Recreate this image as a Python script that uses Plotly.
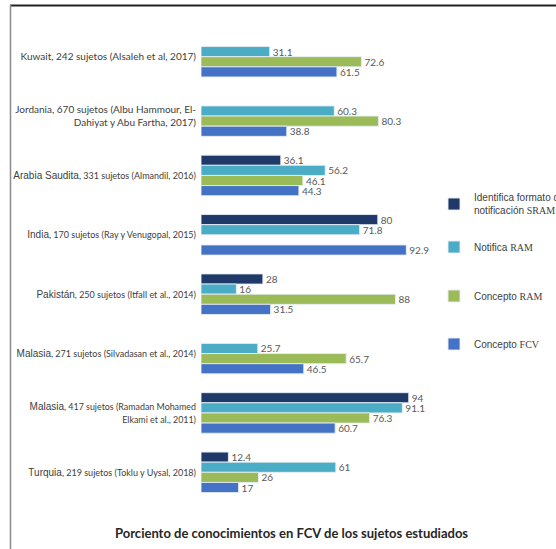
import plotly.graph_objects as go

W, H = 556, 549
ML, MR, MT, MB = 201, 134, 27, 47

categories = [
    "Kuwait, 242 sujetos (Alsaleh et al, 2017)",
    "Jordania, 670 sujetos (Albu Hammour, El-<br>Dahiyat y Abu Fartha, 2017)",
    "<span style='font-family:Liberation Sans'>Arabia Saudita</span><span style='font-size:9px'>, 331 sujetos (Almandil, 2016)</span>",
    "<span style='font-family:Liberation Sans'>India</span><span style='font-size:9px'>, 170 sujetos (Ray y Venugopal, 2015)</span>",
    "<span style='font-family:Liberation Sans'>Pakistán</span><span style='font-size:9px'>, 250 sujetos (Itfall et al., 2014)</span>",
    "<span style='font-family:Liberation Sans'>Malasia</span><span style='font-size:9px'>, 271 sujetos (Silvadasan et al., 2014)</span>",
    "<span style='font-family:Liberation Sans'>Malasia</span><span style='font-size:8.9px'>, 417 sujetos (Ramadan Mohamed</span><br><span style='font-size:8.9px'>Elkami et al., 2011)</span>",
    "<span style='font-family:Liberation Sans'>Turquia</span><span style='font-size:9px'>, 219 sujetos (Toklu y Uysal, 2018)</span>",
]

series_names = [
    "Identifica formato de<br>notificación <span style='font-family:Liberation Serif'>SRAM</span>",
    "Notifica <span style='font-family:Liberation Serif'>RAM</span>",
    "Concepto <span style='font-family:Liberation Serif'>RAM</span>",
    "Concepto <span style='font-family:Liberation Serif'>FCV</span>",
]

identifica_sram = [None, None, 36.1, 80, 28, None, 94, 12.4]
notifica_ram = [31.1, 60.3, 56.2, 71.8, 16, 25.7, 91.1, 61]
concepto_ram = [72.6, 80.3, 46.1, None, 88, 65.7, 76.3, 26]
concepto_fcv = [61.5, 38.8, 44.3, 92.9, 31.5, 46.5, 60.7, 17]

series_values = [identifica_sram, notifica_ram, concepto_ram, concepto_fcv]
colors = ["#1F3A68", "#4BACC6", "#9BBB59", "#4472C4"]
legend_ids = ["legend", "legend2", "legend3", "legend4"]
legend_centers_px = [204, 247, 296, 344]

pw = W - ML - MR
ph = H - MT - MB

def px_to_paper_x(px):
    return (px - ML) / pw

def px_to_paper_y(py):
    return 1 - (py - MT) / ph

fig = go.Figure()
for name, vals, col, lid in zip(series_names, series_values, colors, legend_ids):
    fig.add_trace(go.Bar(
        y=categories, x=vals, name=name, orientation="h",
        marker=dict(color=col, line=dict(color="rgba(230,236,245,0.9)", width=1)),
        text=[("" if v is None else f"{v:g}") for v in vals],
        textposition="outside", constraintext="none", cliponaxis=False,
        textfont=dict(family="Lato", size=10, color="#595959"),
        legend=lid,
    ))

legend_common = dict(xanchor="left", yanchor="middle", itemwidth=30,
                     font=dict(family="Liberation Sans", size=10, color="#404040"),
                     bgcolor="rgba(0,0,0,0)", borderwidth=0)

layout_legends = {}
for lid, cy in zip(legend_ids, legend_centers_px):
    layout_legends[lid] = dict(x=px_to_paper_x(434), y=px_to_paper_y(cy), **legend_common)

fig.update_layout(
    width=W, height=H,
    margin=dict(l=ML, r=MR, t=MT, b=MB, autoexpand=False),
    paper_bgcolor="white", plot_bgcolor="white",
    barmode="group", bargap=0.317, bargroupgap=0,
    font=dict(family="Lato", size=10, color="#404040"),
    xaxis=dict(visible=False, range=[0, 100], automargin=False),
    yaxis=dict(autorange="reversed", showline=False, ticks="", showgrid=False, automargin=False,
               ticklabelstandoff=4, tickfont=dict(family="Lato", size=10, color="#404040")),
    showlegend=True,
    **layout_legends,
)

fig.add_annotation(
    text="<b>Porciento de conocimientos en FCV de los sujetos estudiados</b>",
    xref="paper", yref="paper", x=px_to_paper_x(291), y=px_to_paper_y(533),
    xanchor="center", yanchor="middle", showarrow=False,
    font=dict(family="Lato", size=13, color="#262626"),
)

# frame lines
fig.add_shape(type="line", xref="paper", yref="paper",
              x0=px_to_paper_x(10), x1=px_to_paper_x(560),
              y0=px_to_paper_y(5.5), y1=px_to_paper_y(5.5),
              line=dict(color="#222222", width=2))
fig.add_shape(type="line", xref="paper", yref="paper",
              x0=px_to_paper_x(10.5), x1=px_to_paper_x(10.5),
              y0=px_to_paper_y(5), y1=px_to_paper_y(560),
              line=dict(color="#8a8a8a", width=1.5))

fig.write_html("out.html")
